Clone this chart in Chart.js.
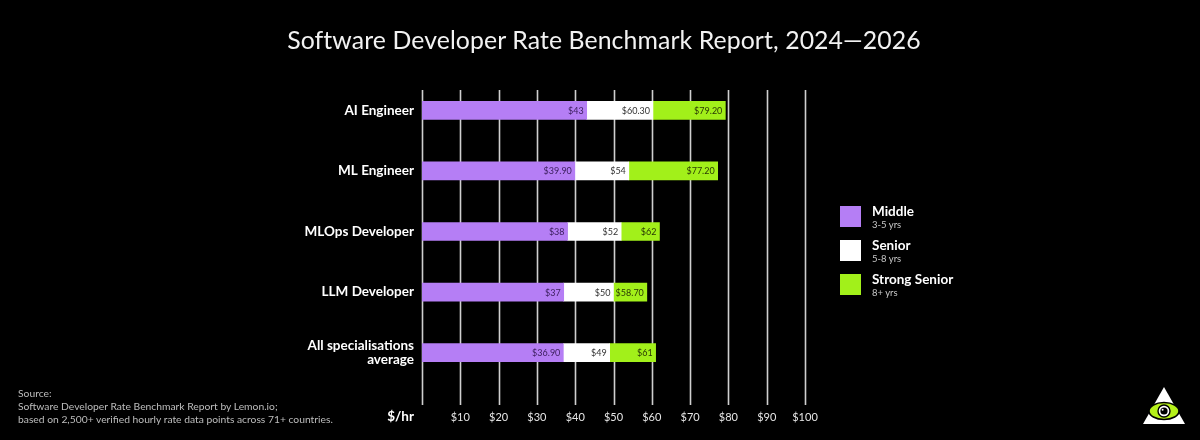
<!DOCTYPE html>
<html>
<head>
<meta charset="utf-8">
<script src="https://cdn.jsdelivr.net/npm/chart.js@4/dist/chart.umd.min.js"></script>
<style>
  html, body { margin:0; padding:0; background:#000; }
  #wrap { position:relative; width:1200px; height:440px; background:#000; overflow:hidden; font-family: Lato, "Noto Sans", sans-serif; }
  #c { position:absolute; left:0; top:0; }
  #title { position:absolute; left:0; width:1208px; top:25px; text-align:center; color:#f2f2f2; font-size:24.8px; font-weight:400; letter-spacing:0.1px; }
  #legend { position:absolute; left:840px; top:206px; }
  .li { position:relative; height:34px; }
  .sw { position:absolute; left:0; top:0; width:21px; height:21px; }
  .ln { position:absolute; left:32px; top:-3px; color:#fff; font-weight:700; font-size:13.5px; white-space:nowrap; }
  .ls { position:absolute; left:32px; top:13px; color:#c8c8c8; font-size:9.5px; white-space:nowrap; }
  #source { position:absolute; left:18px; top:387px; color:#bdbdbd; font-size:10.3px; line-height:13px; }
  #logo { position:absolute; left:1140px; top:385px; }
</style>
</head>
<body>
<div id="wrap">
  <canvas id="c" width="1200" height="440"></canvas>
  <div id="title">Software Developer Rate Benchmark Report, 2024—2026</div>
  <div id="legend"></div>
  <div id="source">Source:<br>Software Developer Rate Benchmark Report by Lemon.io;<br>based on 2,500+ verified hourly rate data points across 71+ countries.</div>
  <svg id="logo" width="48" height="42" viewBox="0 0 48 42">
    <polygon points="24,2 45,39 3,39" fill="#ffffff"/>
    <ellipse cx="24" cy="26" rx="15" ry="8.5" fill="#b5f01a" stroke="#000" stroke-width="1.6"/>
    <circle cx="24" cy="26" r="6" fill="#fff" stroke="#000" stroke-width="1.4"/>
    <circle cx="24" cy="26" r="3.6" fill="#000"/>
    <circle cx="22.6" cy="24.8" r="1" fill="#fff"/>
  </svg>
</div>
<script>
const categories = ['AI Engineer', 'ML Engineer', 'MLOps Developer', 'LLM Developer', ['All specialisations', 'average']];
const seriesNames = ['Middle', 'Senior', 'Strong Senior'];
const seriesSub = ['3-5 yrs', '5-8 yrs', '8+ yrs'];
const middle = [43, 39.9, 38, 37, 36.9];
const senior = [60.3, 54, 52, 50, 49];
const strongSenior = [79.2, 77.2, 62, 58.7, 61];
const xMin = 0, xMax = 100, xStep = 10;
const axisUnit = '$/hr';

const colors = ['#b57ef5', '#ffffff', '#a2f01a'];
const labelColors = ['#3a1d5c', '#333333', '#2a3a05'];

const ends = [middle, senior, strongSenior];
const starts = [middle.map(() => 0), middle, senior];

function fmt(v) {
  return '$' + (Number.isInteger(v) ? v : v.toFixed(2));
}

const datasets = ends.map((arr, d) => ({
  label: seriesNames[d],
  data: arr.map((v, i) => [starts[d][i], v]),
  backgroundColor: colors[d],
  borderWidth: 0,
  barThickness: 18,
  grouped: false
}));

const gridPlugin = {
  id: 'gridLines',
  beforeDatasetsDraw(chart) {
    const ctx = chart.ctx, xs = chart.scales.x;
    ctx.save();
    ctx.strokeStyle = '#cfcfcf';
    ctx.lineWidth = 1.6;
    for (let v = xMin; v <= xMax; v += xStep) {
      const x = Math.round(xs.getPixelForValue(v)) + 0.5;
      ctx.beginPath();
      ctx.moveTo(x, chart.chartArea.top + 10);
      ctx.lineTo(x, chart.chartArea.bottom + 22);
      ctx.stroke();
    }
    ctx.restore();
  }
};

const labelPlugin = {
  id: 'barLabels',
  afterDatasetsDraw(chart) {
    const ctx = chart.ctx, xs = chart.scales.x;
    ctx.save();
    ctx.font = '9px Lato, "Noto Sans", sans-serif';
    ctx.textAlign = 'right';
    ctx.textBaseline = 'middle';
    chart.data.datasets.forEach((ds, d) => {
      const meta = chart.getDatasetMeta(d);
      meta.data.forEach((el, i) => {
        const v = ends[d][i];
        ctx.fillStyle = labelColors[d];
        ctx.fillText(fmt(v), xs.getPixelForValue(v) - 3, el.y + 0.5);
      });
    });
    ctx.font = 'bold 13.5px Lato, "Noto Sans", sans-serif';
    ctx.fillStyle = '#ffffff';
    ctx.textAlign = 'right';
    ctx.fillText(axisUnit, chart.chartArea.left - 8, chart.chartArea.bottom + 34);
    ctx.restore();
  }
};

new Chart(document.getElementById('c'), {
  type: 'bar',
  data: { labels: categories, datasets },
  options: {
    indexAxis: 'y',
    responsive: false,
    animation: false,
    layout: { padding: { top: 80, right: 395, bottom: 0, left: 0 } },
    plugins: { legend: { display: false }, tooltip: { enabled: false } },
    scales: {
      x: {
        min: xMin, max: xMax,
        grid: { display: false },
        border: { display: false },
        afterFit(s) { s.height = 57; },
        ticks: {
          stepSize: xStep,
          padding: 20,
          color: '#e6e6e6',
          font: { size: 11, family: 'Lato, "Noto Sans", sans-serif' },
          callback: v => v === 0 ? '' : '$' + v
        }
      },
      y: {
        grid: { display: false, drawTicks: false },
        border: { display: false },
        afterFit(s) { s.width = 422; },
        ticks: {
          padding: 8,
          color: '#ffffff',
          font: { size: 13.5, weight: 'bold', family: 'Lato, "Noto Sans", sans-serif', lineHeight: 1.05 }
        }
      }
    }
  },
  plugins: [gridPlugin, labelPlugin]
});

const lg = document.getElementById('legend');
seriesNames.forEach((n, i) => {
  const d = document.createElement('div');
  d.className = 'li';
  d.innerHTML = '<div class="sw" style="background:' + colors[i] + '"></div><div class="ln">' + n + '</div><div class="ls">' + seriesSub[i] + '</div>';
  lg.appendChild(d);
});
</script>
</body>
</html>
